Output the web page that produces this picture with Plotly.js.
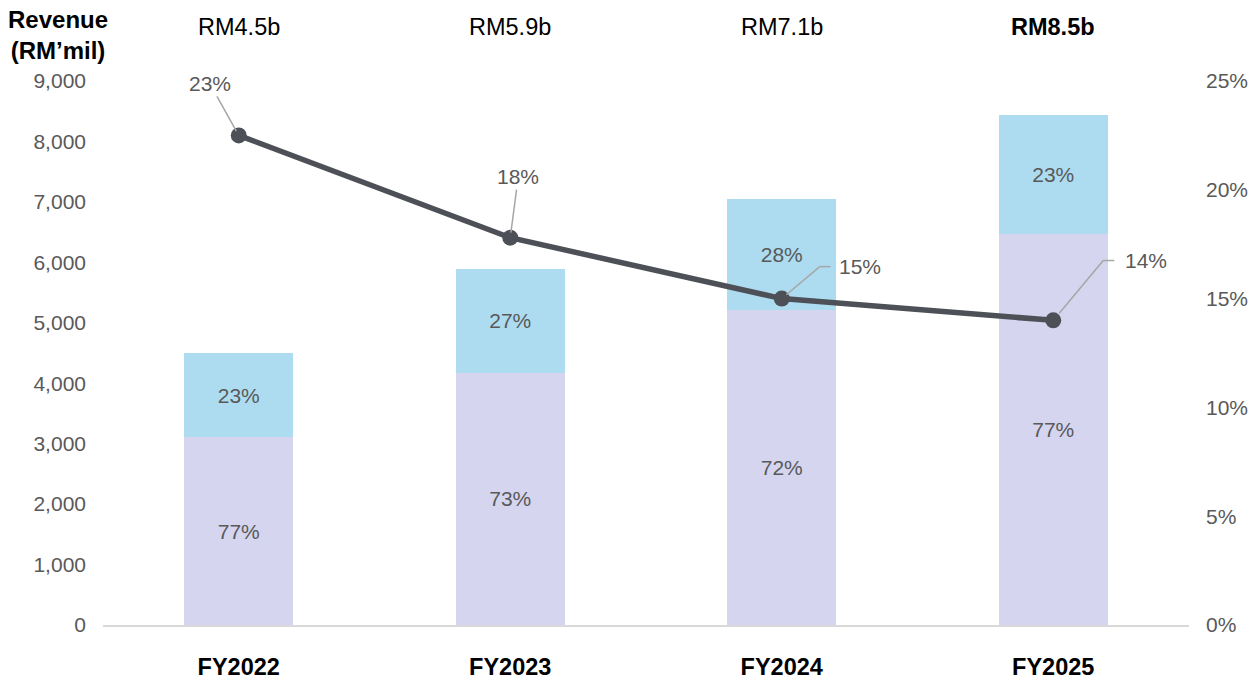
<!DOCTYPE html>
<html>
<head>
<meta charset="utf-8">
<script src="https://cdn.plot.ly/plotly-3.0.1.min.js"></script>
<style>html,body{margin:0;padding:0;background:#fff;}#chart{width:1253px;height:681px;}</style>
</head>
<body>
<div id="chart"></div>
<script>
// ---- data ----
const categories = ['FY2022', 'FY2023', 'FY2024', 'FY2025'];
const lowerValues = [3110, 4170, 5210, 6470];
const upperValues = [1390, 1720, 1840, 1970];
const lowerShare = ['77%', '73%', '72%', '77%'];
const upperShare = ['23%', '27%', '28%', '23%'];
const marginPct = [22.5, 17.8, 15.0, 14.0];
const marginLabels = ['23%', '18%', '15%', '14%'];
const totalLabels = ['RM4.5b', 'RM5.9b', 'RM7.1b', 'RM8.5b'];
const leftTicks = [0, 1000, 2000, 3000, 4000, 5000, 6000, 7000, 8000, 9000];
const rightTicks = [0, 5, 10, 15, 20, 25];

// ---- style ----
const FONT = 'Liberation Sans, Arial, sans-serif';
const GREY = '#595959';
const LEADER = '#A6A6A6';

const traces = [
  {
    type: 'bar', x: categories, y: lowerValues, text: lowerShare,
    textposition: 'inside', insidetextanchor: 'middle',
    textfont: {family: FONT, size: 21, color: GREY},
    marker: {color: '#D5D5F0'}, width: 0.4, hoverinfo: 'skip', showlegend: false
  },
  {
    type: 'bar', x: categories, y: upperValues, text: upperShare,
    textposition: 'inside', insidetextanchor: 'middle',
    textfont: {family: FONT, size: 21, color: GREY},
    marker: {color: '#ADDCF1'}, width: 0.4, hoverinfo: 'skip', showlegend: false
  },
  {
    type: 'scatter', mode: 'lines+markers', x: categories, y: marginPct, yaxis: 'y2',
    line: {color: '#4D5157', width: 5.5},
    marker: {color: '#4D5157', size: 16},
    hoverinfo: 'skip', showlegend: false
  }
];

const annotations = [];
// top totals
totalLabels.forEach((t, i) => {
  annotations.push({
    x: categories[i], xref: 'x', y: 1.099, yref: 'paper', yanchor: 'middle',
    text: i === totalLabels.length - 1 ? '<b>' + t + '</b>' : t,
    showarrow: false, font: {family: FONT, size: 23.5, color: '#000'}
  });
});
// axis title
annotations.push({
  x: -0.0414, xref: 'paper', y: 1.142, yref: 'paper', yanchor: 'top', xanchor: 'center',
  text: '<b>Revenue<br>(RM’mil)</b>', showarrow: false, align: 'center',
  font: {family: FONT, size: 24, color: '#000'}
});
// straight leader labels (first two)
const straightOffsets = [[-29, -52], [8, -61]];
[0, 1].forEach(i => {
  annotations.push({
    x: categories[i], xref: 'x', y: marginPct[i], yref: 'y2',
    text: marginLabels[i], showarrow: true, arrowhead: 0, arrowwidth: 1.5,
    arrowcolor: LEADER, ax: straightOffsets[i][0], ay: straightOffsets[i][1],
    standoff: 5, font: {family: FONT, size: 21, color: GREY}
  });
});
// elbow leader labels (last two)
const shapes = [];
const elbow = {2: {dx: 0.14, dy: 1.47, ex: 0.18, tx: 0.205}, 3: {dx: 0.184, dy: 2.75, ex: 0.225, tx: 0.258}};
[2, 3].forEach(i => {
  const e = elbow[i];
  const y = marginPct[i];
  const sx = i + e.dx * 0.12, sy = y + e.dy * 0.12;
  shapes.push({type: 'line', xref: 'x', yref: 'y2', x0: sx, y0: sy, x1: i + e.dx, y1: y + e.dy,
    line: {color: LEADER, width: 1.5}, layer: 'above'});
  shapes.push({type: 'line', xref: 'x', yref: 'y2', x0: i + e.dx, y0: y + e.dy, x1: i + e.ex, y1: y + e.dy,
    line: {color: LEADER, width: 1.5}, layer: 'above'});
  annotations.push({
    x: i + e.tx, xref: 'x', y: y + e.dy, yref: 'y2', xanchor: 'left', yanchor: 'middle',
    text: marginLabels[i], showarrow: false, font: {family: FONT, size: 21, color: GREY}
  });
});

const layout = {
  width: 1253, height: 681,
  margin: {l: 103, r: 64, t: 81, b: 56},
  paper_bgcolor: '#fff', plot_bgcolor: '#fff',
  barmode: 'stack', bargap: 0.6,
  font: {family: FONT, color: GREY},
  xaxis: {
    type: 'category', range: [-0.5, 3.5], showgrid: false, zeroline: false,
    showline: true, linecolor: '#D9D9D9', linewidth: 1.5, ticks: '',
    tickfont: {family: FONT, size: 23.5, color: '#000', weight: 'bold'},
    ticklabelstandoff: 20
  },
  yaxis: {
    range: [0, 9000], tickvals: leftTicks, tickformat: ',d', showgrid: false, zeroline: false,
    showline: false, ticks: '', tickfont: {family: FONT, size: 21, color: GREY},
    ticklabelstandoff: 16
  },
  yaxis2: {
    overlaying: 'y', side: 'right', range: [0, 25], tickvals: rightTicks,
    ticktext: rightTicks.map(v => v + '%'),
    showgrid: false, zeroline: false, showline: false, ticks: '',
    tickfont: {family: FONT, size: 21, color: GREY}, ticklabelstandoff: 16
  },
  annotations: annotations,
  shapes: shapes
};

Plotly.newPlot('chart', traces, layout, {displayModeBar: false, staticPlot: true});
</script>
</body>
</html>
